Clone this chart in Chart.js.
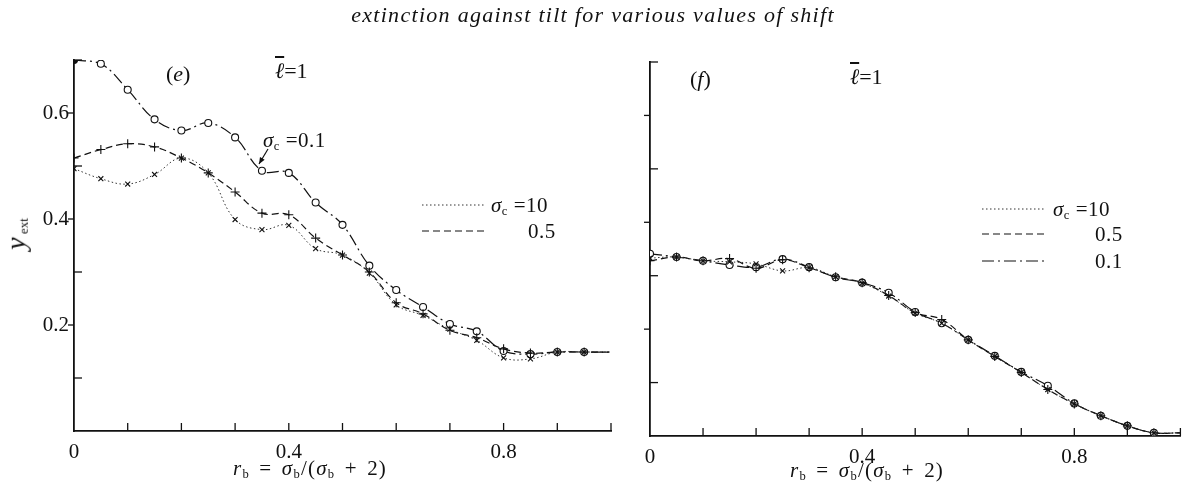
<!DOCTYPE html>
<html>
<head>
<meta charset="utf-8">
<script src="https://cdn.jsdelivr.net/npm/chart.js@4.4.0/dist/chart.umd.min.js"></script>
<style>
  body { margin: 0; background: #fff; }
  #wrap { position: relative; width: 1186px; height: 490px; overflow: hidden;
          font-family: 'Liberation Serif', 'DejaVu Serif', serif; color: #111; }
  canvas { position: absolute; top: 0; }
  #c1 { left: 0; }
  #c2 { left: 630px; }
  .t { position: absolute; white-space: nowrap; line-height: 1; }
  .t sub { font-size: 0.6em; vertical-align: -0.2em; font-style: normal; }
  .f { font-size: 21px; letter-spacing: 1.2px; word-spacing: 3px; }
  .k { font-size: 21px; letter-spacing: 0.5px; }
  i { font-style: italic; }
</style>
</head>
<body>
<div id="wrap">
  <canvas id="c1" width="630" height="490" style="width:630px;height:490px"></canvas>
  <canvas id="c2" width="556" height="490" style="width:556px;height:490px"></canvas>

  <div class="t" style="left:0;width:1186px;text-align:center;top:4px;font-size:22px;font-style:italic;letter-spacing:1.3px">extinction against tilt for various values of shift</div>

  <!-- left panel texts -->
  <div class="t" style="left:166px;top:63px;font-size:22px">(<i>e</i>)</div>
  <div class="t" style="left:275px;top:60px;font-size:22px"><i style="text-decoration:overline">ℓ</i>=1</div>
  <div class="t k" style="left:263px;top:130px"><i>σ</i><sub>c</sub> =0.1</div>
  <div class="t k" style="left:491px;top:195px"><i>σ</i><sub>c</sub> =10</div>
  <div class="t k" style="left:528px;top:221px">0.5</div>
  <div class="t f" style="left:233px;top:458px"><i>r</i><sub>b</sub> = <i>σ</i><sub>b</sub>/(<i>σ</i><sub>b</sub> + 2)</div>
  <div class="t" style="left:0px;top:220px;font-size:28px;transform:rotate(-90deg);transform-origin:center"><i>y</i><sub style="font-size:13px"> ext</sub></div>

  <!-- right panel texts -->
  <div class="t" style="left:690px;top:68px;font-size:22px">(<i>f</i>)</div>
  <div class="t" style="left:850px;top:66px;font-size:22px"><i style="text-decoration:overline">ℓ</i>=1</div>
  <div class="t k" style="left:1053px;top:199px"><i>σ</i><sub>c</sub> =10</div>
  <div class="t k" style="left:1095px;top:224px">0.5</div>
  <div class="t k" style="left:1095px;top:251px">0.1</div>
  <div class="t f" style="left:790px;top:460px"><i>r</i><sub>b</sub> = <i>σ</i><sub>b</sub>/(<i>σ</i><sub>b</sub> + 2)</div>
</div>

<script>
// tilt values r_b
const rb = [0, 0.05, 0.1, 0.15, 0.2, 0.25, 0.3, 0.35, 0.4, 0.45, 0.5, 0.55, 0.6, 0.65, 0.7, 0.75, 0.8, 0.85, 0.9, 0.95, 1.0];

// panel (e)
const e_sig10 = [0.495, 0.476, 0.466, 0.484, 0.515, 0.487, 0.399, 0.380, 0.388, 0.344, 0.332, 0.298, 0.238, 0.218, 0.192, 0.171, 0.138, 0.136, 0.149, 0.149, 0.149];
const e_sig05 = [0.515, 0.531, 0.542, 0.536, 0.515, 0.487, 0.451, 0.411, 0.408, 0.364, 0.332, 0.300, 0.242, 0.221, 0.190, 0.176, 0.155, 0.147, 0.149, 0.149, 0.149];
const e_sig01 = [0.700, 0.693, 0.644, 0.588, 0.567, 0.581, 0.554, 0.491, 0.487, 0.431, 0.389, 0.312, 0.266, 0.234, 0.202, 0.188, 0.151, 0.145, 0.149, 0.149, 0.149];

// panel (f)
const f_sig10 = [0.333, 0.335, 0.328, 0.326, 0.322, 0.309, 0.315, 0.298, 0.286, 0.262, 0.230, 0.211, 0.180, 0.149, 0.119, 0.087, 0.060, 0.038, 0.019, 0.006, 0.006];
const f_sig05 = [0.328, 0.335, 0.328, 0.332, 0.314, 0.330, 0.315, 0.298, 0.287, 0.263, 0.231, 0.218, 0.180, 0.149, 0.119, 0.087, 0.060, 0.038, 0.019, 0.006, 0.006];
const f_sig01 = [0.341, 0.335, 0.328, 0.320, 0.316, 0.331, 0.316, 0.297, 0.287, 0.268, 0.232, 0.211, 0.180, 0.150, 0.120, 0.094, 0.061, 0.038, 0.019, 0.006, 0.006];

const ink = '#111';

function series(vals, kind, firstFilled) {
  let n = vals.length;
  let radius = vals.map((v, i) => i == n - 1 ? 0 : (kind == 'circle' ? 3.5 : kind == 'cross' ? 4.5 : 3.5));
  let fill = vals.map((v, i) => (kind == 'circle' && !(firstFilled && i == 0)) ? '#fff' : ink);
  let dash = kind == 'crossRot' ? [1.5, 2.5] : kind == 'cross' ? [7, 4] : [12, 4, 2, 4];
  return {
    data: rb.map((x, i) => ({x: x, y: vals[i]})),
    borderColor: kind == 'crossRot' ? '#333' : ink,
    borderWidth: kind == 'crossRot' ? 1 : 1.2,
    borderDash: dash,
    tension: 0.4,
    pointStyle: kind,
    pointRadius: radius,
    pointBackgroundColor: fill,
    pointBorderColor: ink,
    pointBorderWidth: 1.1
  };
}

// ticks point into the plot, like the printed figure
const inwardTicks = {
  id: 'inwardTicks',
  afterDraw(chart, args, opts) {
    const ctx = chart.ctx, a = chart.chartArea;
    const xs = chart.scales.x, ys = chart.scales.y;
    ctx.save();
    ctx.strokeStyle = ink;
    ctx.lineWidth = 1.3;
    xs.ticks.forEach(t => {
      if (t.value == 0) return;
      let px = xs.getPixelForValue(t.value);
      ctx.beginPath(); ctx.moveTo(px, a.bottom); ctx.lineTo(px, a.bottom - 8); ctx.stroke();
    });
    ys.ticks.forEach(t => {
      if (t.value == 0) return;
      let py = ys.getPixelForValue(t.value);
      let out = t.label !== '';
      ctx.beginPath(); ctx.moveTo(a.left, py); ctx.lineTo(out ? a.left - 6 : a.left + 8, py); ctx.stroke();
    });
    ctx.restore();
  }
};

// legend samples and the arrow, in canvas pixels
const keys = {
  id: 'keys',
  afterDraw(chart, args, opts) {
    const ctx = chart.ctx;
    ctx.save();
    (opts.lines || []).forEach(l => {
      ctx.strokeStyle = l.color; ctx.lineWidth = l.width;
      ctx.setLineDash(l.dash);
      ctx.beginPath(); ctx.moveTo(l.x1, l.y); ctx.lineTo(l.x2, l.y); ctx.stroke();
    });
    ctx.setLineDash([]);
    if (opts.arrow) {
      let [x1, y1, x2, y2] = opts.arrow;
      ctx.strokeStyle = ink; ctx.fillStyle = ink; ctx.lineWidth = 1.2;
      ctx.beginPath(); ctx.moveTo(x1, y1); ctx.lineTo(x2, y2); ctx.stroke();
      let ang = Math.atan2(y2 - y1, x2 - x1);
      ctx.beginPath();
      ctx.moveTo(x2, y2);
      ctx.lineTo(x2 - 7 * Math.cos(ang - 0.4), y2 - 7 * Math.sin(ang - 0.4));
      ctx.lineTo(x2 - 7 * Math.cos(ang + 0.4), y2 - 7 * Math.sin(ang + 0.4));
      ctx.closePath(); ctx.fill();
    }
    ctx.restore();
  }
};

function makeChart(id, sets, conf) {
  return new Chart(document.getElementById(id), {
    type: 'line',
    data: { datasets: sets },
    options: {
      responsive: false,
      animation: false,
      events: [],
      layout: { padding: conf.padding },
      plugins: { legend: { display: false }, tooltip: { enabled: false }, keys: conf.keys },
      scales: {
        x: {
          type: 'linear', min: 0, max: 1,
          grid: { display: false },
          border: { display: true, color: ink, width: 1.8 },
          afterFit: s => { s.height = conf.xHeight; },
          ticks: {
            stepSize: 0.1, maxRotation: 0, autoSkip: false, padding: 1, color: ink,
            font: { family: 'Liberation Serif', size: 21 },
            callback: v => { let k = Math.round(v * 10); return k == 0 ? '0' : (k == 4 || k == 8) ? (k / 10).toFixed(1) : ''; }
          }
        },
        y: {
          min: 0, max: 0.7,
          grid: { display: false, tickLength: 4 },
          border: { display: true, color: ink, width: 1.8 },
          afterFit: s => { s.width = conf.yWidth; },
          ticks: {
            stepSize: 0.1, autoSkip: false, padding: 1, color: ink,
            display: conf.yLabels,
            font: { family: 'Liberation Serif', size: 21 },
            callback: v => { let k = Math.round(v * 10); return (k == 2 || k == 4 || k == 6) ? (k / 10).toFixed(1) : ''; }
          }
        }
      }
    },
    plugins: [inwardTicks, keys]
  });
}

makeChart('c1', [series(e_sig10, 'crossRot'), series(e_sig05, 'cross'), series(e_sig01, 'circle', true)], {
  padding: { top: 60, right: 19, left: 0, bottom: 0 },
  xHeight: 59, yWidth: 74, yLabels: true,
  keys: {
    lines: [
      { x1: 422, x2: 485, y: 205, dash: [1.5, 2.5], width: 1, color: '#333' },
      { x1: 422, x2: 485, y: 231, dash: [7, 4], width: 1.2, color: ink }
    ],
    arrow: [268, 149, 259, 164]
  }
});

makeChart('c2', [series(f_sig10, 'crossRot'), series(f_sig05, 'cross'), series(f_sig01, 'circle')], {
  padding: { top: 62, right: 1, left: 0, bottom: 0 },
  xHeight: 54, yWidth: 20, yLabels: false,
  keys: {
    lines: [
      { x1: 352, x2: 416, y: 209, dash: [1.5, 2.5], width: 1, color: '#333' },
      { x1: 352, x2: 416, y: 234, dash: [7, 4], width: 1.2, color: ink },
      { x1: 352, x2: 416, y: 261, dash: [12, 4, 2, 4], width: 1.2, color: ink }
    ]
  }
});
</script>
</body>
</html>
